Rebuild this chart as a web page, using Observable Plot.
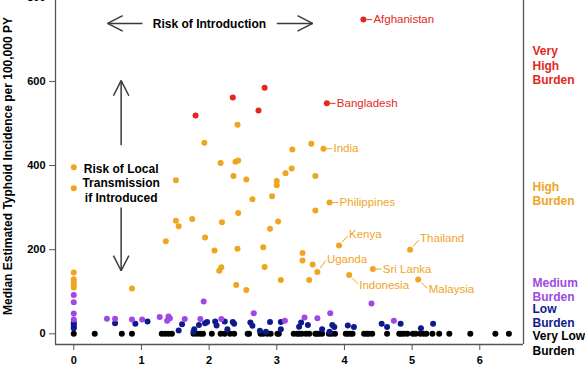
<!DOCTYPE html>
<html><head><meta charset="utf-8">
<script src="https://cdn.jsdelivr.net/npm/d3@7"></script>
<script src="https://cdn.jsdelivr.net/npm/@observablehq/plot@0.6"></script>
<style>body{margin:0;background:#fff} #chart{width:585px;height:390px;overflow:hidden}</style>
</head><body><div id="chart"></div>
<script>
// ---- Data (x = risk of introduction score, y = median incidence per 100,000 PY)
const veryHigh = [[1.80,519],[2.35,562],[2.73,531],[2.82,585],[3.74,548],[4.28,747]];
const high = [[0,396],[0,346],[0,146],[0,130],[0,123],[0,116],[0,110],[0.86,108],
  [1.36,220],[1.51,365],[1.51,269],[1.55,256],[1.75,273],[1.93,454],[1.94,229],
  [2.08,198],[2.15,150],[2.18,158],[2.17,406],[2.19,265],[2.36,375],[2.39,409],
  [2.40,116],[2.42,497],[2.42,202],[2.43,412],[2.43,287],[2.55,367],[2.55,104],
  [2.64,320],[2.80,206],[2.82,159],[2.90,250],[2.93,327],[3.00,363],[3.00,353],
  [3.02,267],[3.06,128],[3.13,382],[3.22,393],[3.23,438],[3.38,192],[3.38,174],
  [3.48,128],[3.51,452],[3.53,165],[3.57,375],[3.57,293],[3.60,147],[3.69,440],
  [3.78,312],[3.92,210],[4.07,140],[4.42,154],[4.97,200],[5.09,129]];
const medium = [[0,92],[0,75],[0,48],[0,34],[0.49,36],[0.61,36],[0.86,34],[1.01,34],
  [1.27,40],[1.40,41],[1.38,31],[1.42,37],[1.64,35],[1.87,35],[1.92,77],[2.18,35],
  [2.66,49],[3.12,31],[3.41,39],[3.60,37],[3.79,49],[4.40,72],[4.73,31]];
const low = [[0,27],[0,22],[0,17],[0,13],[0.61,25],[0.91,24],[1.09,29],[1.55,8],[1.60,23],
  [1.78,11],[1.77,5],[1.85,21],[1.94,25],[1.97,28],[2.09,29],[2.11,20],[2.23,29],
  [2.27,11],[2.35,28],[2.37,24],[2.61,27],[2.64,19],[2.75,7],[2.84,5],[2.90,28],
  [3.06,28],[3.06,11],[3.33,17],[3.36,27],[3.46,21],[3.67,11],[3.78,5],[3.82,21],
  [3.85,16],[4.05,20],[4.14,16],[4.55,24],[4.63,16],[4.83,24],[5.13,13],[5.31,24]];
const veryLowX = [0,0.31,0.71,0.86,1.30,1.35,1.40,1.45,1.77,1.82,1.87,1.91,2.04,2.17,
  2.23,2.31,2.37,2.57,2.59,2.76,2.80,2.86,2.91,3.01,3.03,3.25,3.30,3.33,3.37,3.43,
  3.48,3.57,3.60,3.63,3.67,3.77,3.81,3.86,4.02,4.05,4.09,4.12,4.29,4.33,4.36,4.41,
  4.63,4.81,4.84,4.88,4.93,5.01,5.05,5.12,5.17,5.21,5.30,5.40,5.55,5.86,6.23,6.43];
const veryLow = veryLowX.map(x => [x, 0]);

const labelled = [
  ["Afghanistan",4.28,747,"veryHigh"],["Bangladesh",3.74,548,"veryHigh"],
  ["India",3.69,440,"high"],["Philippines",3.78,312,"high"],["Kenya",3.92,210,"high"],
  ["Thailand",4.97,200,"high"],["Uganda",3.60,147,"high"],["Sri Lanka",4.42,154,"high"],
  ["Indonesia",4.07,140,"high"],["Malaysia",5.09,129,"high"]];

const xTicks = [0,1,2,3,4,5,6];
const yTicks = [0,200,400,600,800];
const legendRows = [
  ["Very\nHigh\nBurden","veryHigh"],["High\nBurden","high"],["Medium\nBurden","medium"],
  ["Low\nBurden","low"],["Very Low\nBurden","veryLow"]];
const yTitle = "Median Estimated Typhoid Incidence per 100,000 PY";
const annotations = [
  {text:"Risk of Introduction", x:2.005, y:738},
  {text:"Risk of Local\nTransmission\nif Introduced", x:0.70, y:359}];
const arrows = [[1.015,738,0.50,738],[3.0,738,3.53,738],[0.70,448,0.70,602],[0.70,300,0.70,150]];

// ---- Styles / layout
const colors = {veryHigh:"#E3281C", high:"#F0A41F", medium:"#A148E3", low:"#0E1A8C", veryLow:"#000000"};
const W=585, H=390, ML=55, MR=62, MT=0, MB=46;
const xDomain=[-0.27,6.646], yDomain=[-25.4,792.4];
const sx=(W-ML-MR)/(xDomain[1]-xDomain[0]);
const sy=(H-MT-MB)/(yDomain[1]-yDomain[0]);
const shift=(x,y,dxp,dyp)=>[x+dxp/sx, y-dyp/sy];
const labelOffset = {Afghanistan:[10,0],Bangladesh:[10,0],India:[10,0],Philippines:[10,0],
  "Sri Lanka":[10,0],Kenya:[10,-11],Thailand:[10,-11],Uganda:[9.5,-13],Indonesia:[10,10],Malaysia:[10.5,10]};
const legendCenter = {veryHigh:64.5, high:193, medium:289, low:315, veryLow:342.5};

// leaders and label anchors
const leaders=[], labelPos=[];
for (const [name,x,y,cat] of labelled){
  const [ox,oy]=labelOffset[name];
  const a=shift(x,y,ox*0.3,oy*0.3), b=shift(x,y,ox*0.87,oy*0.87), t=shift(x,y,ox,oy);
  leaders.push({x1:a[0],y1:a[1],x2:b[0],y2:b[1],cat});
  labelPos.push({name,x:t[0],y:t[1],cat});
}
// arrow shafts + open heads
const segs=[];
const HEAD=17, ANG=27*Math.PI/180;
for (const [x1,y1,x2,y2] of arrows){
  segs.push({x1,y1,x2,y2});
  let ux=(x2-x1)*sx, uy=-(y2-y1)*sy; const L=Math.hypot(ux,uy); ux/=L; uy/=L;
  const bx=-ux, by=-uy;
  for (const s of [1,-1]){
    const c=Math.cos(s*ANG), n=Math.sin(s*ANG);
    const wx=(bx*c-by*n)*HEAD, wy=(bx*n+by*c)*HEAD;
    const e=shift(x2,y2,wx,wy);
    segs.push({x1:x2,y1:y2,x2:e[0],y2:e[1]});
  }
}
const series = [["veryLow",veryLow],["low",low],["medium",medium],["high",high],["veryHigh",veryHigh]];

const chart = Plot.plot({
  width:W, height:H, marginLeft:ML, marginRight:MR, marginTop:MT, marginBottom:MB,
  style:{fontFamily:"'Liberation Sans', Arial, sans-serif", color:"black", background:"white"},
  x:{domain:xDomain, label:null},
  y:{domain:yDomain, label:null},
  marks:[
    Plot.ruleY([yDomain[0]], {stroke:"#555", strokeWidth:1.3}),
    Plot.ruleX(xDomain, {stroke:"#555", strokeWidth:1.3}),
    Plot.axisX({ticks:xTicks, tickSize:6, tickPadding:6, fontSize:11, fontWeight:"bold", stroke:"#555", label:null, tickFormat:d=>String(d)}),
    Plot.axisY({ticks:yTicks, tickSize:6, tickPadding:4, fontSize:11, fontWeight:"bold", stroke:"#555", label:null, tickFormat:d=>String(d)}),
    Plot.text([yTitle], {frameAnchor:"left", rotate:-90, dx:-47, dy:-6.5, textAnchor:"middle", lineAnchor:"middle", fontSize:12, fontWeight:"bold", fill:"black"}),
    ...series.map(([cat,pts]) => Plot.dot(pts, {x:d=>d[0], y:d=>d[1], r:3, fill:colors[cat], stroke:"none"})),
    ...Object.keys(colors).map(cat => Plot.link(leaders.filter(d=>d.cat===cat), {x1:"x1",y1:"y1",x2:"x2",y2:"y2", stroke:colors[cat], strokeWidth:1})),
    ...Object.keys(colors).map(cat => Plot.text(labelPos.filter(d=>d.cat===cat), {x:"x", y:"y", text:"name", fill:colors[cat], textAnchor:"start", fontSize:11.5})),
    Plot.link(segs, {x1:"x1",y1:"y1",x2:"x2",y2:"y2", stroke:"#3a3a3a", strokeWidth:1.5}),
    Plot.text(annotations, {x:"x", y:"y", text:"text", fontSize:12, fontWeight:"bold", fill:"black", lineHeight:1.2}),
    ...legendRows.map(([label,cat]) => Plot.text([label], {frameAnchor:"top-right", dx:9, dy:legendCenter[cat], textAnchor:"start", lineAnchor:"middle", fill:colors[cat], fontSize:12, fontWeight:"bold", lineHeight:1.2}))
  ]
});
document.getElementById("chart").appendChild(chart);
</script>
</body></html>
